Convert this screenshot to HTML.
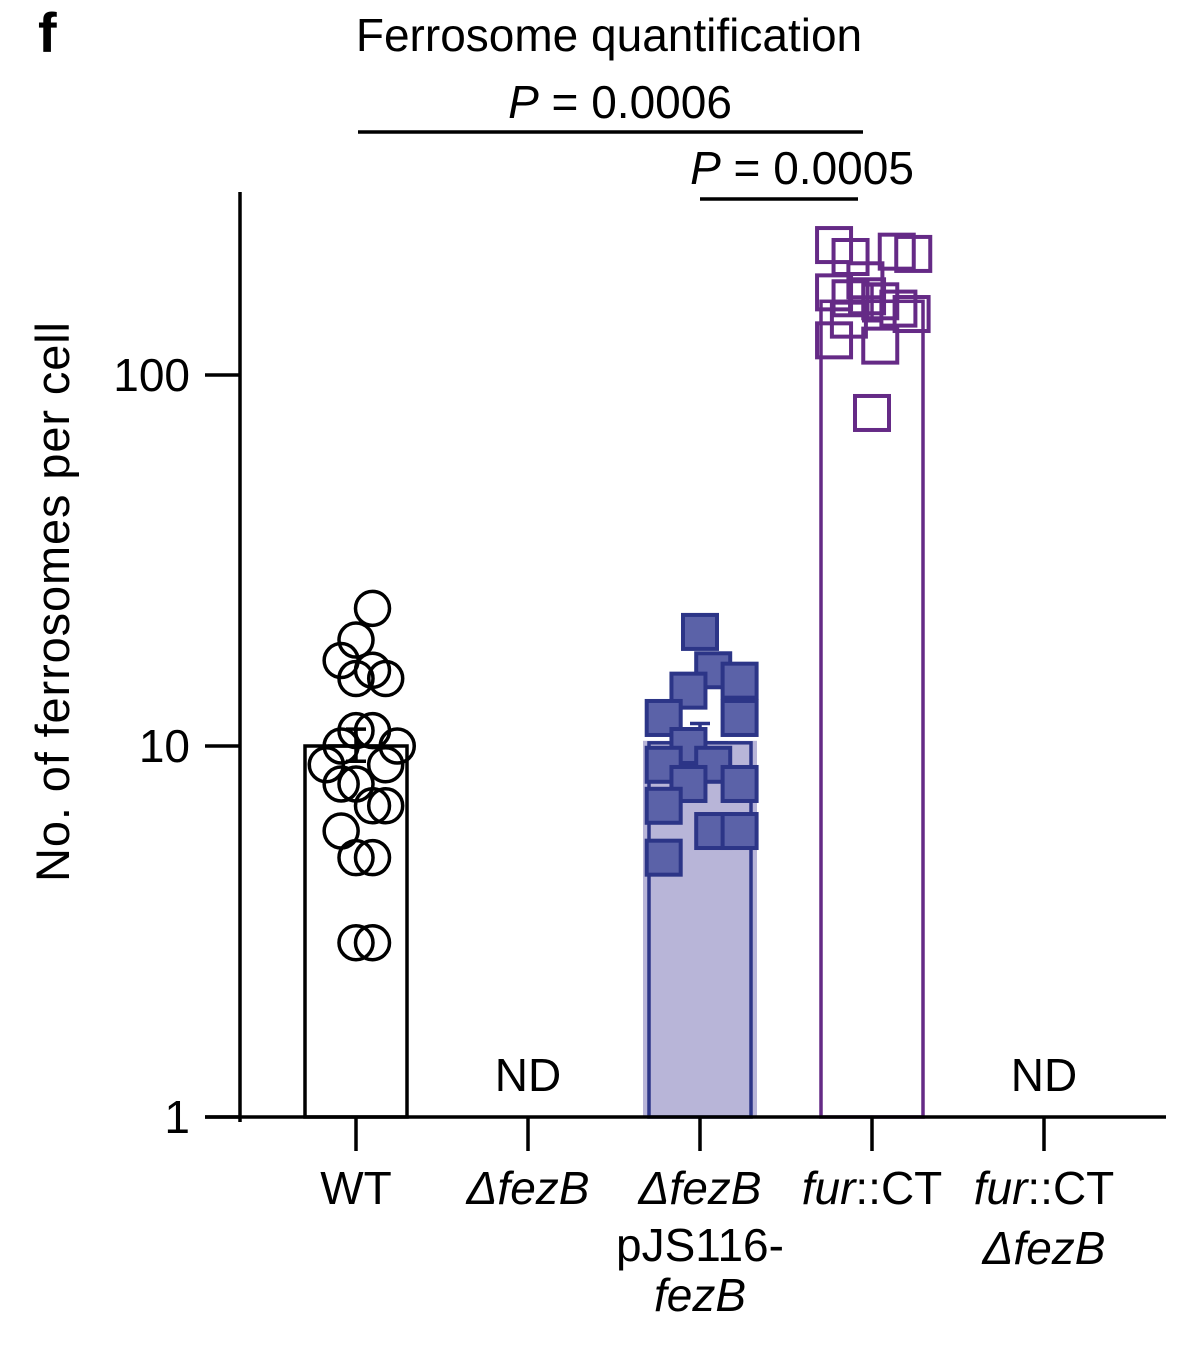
<!DOCTYPE html>
<html><head><meta charset="utf-8"><style>
html,body{margin:0;padding:0;background:#fff;}
svg{display:block;font-family:"Liberation Sans",Arial,sans-serif;}
</style></head><body>
<svg id="chart" width="1192" height="1346" viewBox="0 0 1192 1346">
<text x="38" y="52" font-size="56" font-weight="bold">f</text>
<text x="609" y="51" font-size="46" text-anchor="middle">Ferrosome quantification</text>
<g id="sig">
<line x1="358" y1="132" x2="863" y2="132" stroke="#000" stroke-width="3.5"/>
<text x="620" y="118" font-size="46" text-anchor="middle"><tspan font-style="italic">P</tspan> = 0.0006</text>
<line x1="700" y1="199" x2="858" y2="199" stroke="#000" stroke-width="3.5"/>
<text x="802" y="184" font-size="46" text-anchor="middle"><tspan font-style="italic">P</tspan> = 0.0005</text>
</g>
<text transform="translate(69,602) rotate(-90)" font-size="47" text-anchor="middle" textLength="560">No. of ferrosomes per cell</text>
<g id="plot"></g>
</svg>
<script>
const categories = ["WT","ΔfezB","ΔfezB pJS116-fezB","fur::CT","fur::CT ΔfezB"];
const yTicks = [1,10,100];
const yTickLabels = ["1","10","100"];
const barMeans = [10, null, 10.2, 158, null];
const errLow = [9.1, null, 8.9, 140, null];
const errHigh = [11.1, null, 11.5, 175, null];
const wtValues = [23.5,19.3,17.0,15.2,16.0,15.2,11.0,11.0,10.0,10.0,8.9,8.9,7.9,7.9,6.9,6.9,5.9,5.0,5.0,2.95,2.95];
const compValues = [20.3,16.0,15.0,14.1,11.9,11.9,10.0,8.9,8.9,7.9,7.9,6.9,5.9,5.9,5.0];
const furValues = [224,208,215,212,180,161,167,163,158,151,146,141,124,120,79];
const wtJitter = [0.5,0,-0.45,0,0.5,0.9,0,0.5,-0.45,1.25,-0.9,0.9,-0.45,0,0.5,0.9,-0.45,0,0.5,0,0.5];
const compJitter = [0,0.4,1.2,-0.35,-1.1,1.2,-0.35,-1.1,0.4,-0.35,1.2,-1.1,0.4,1.2,-1.1];
const furJitter = [-1.15,-0.65,0.75,1.25,-0.2,-0.65,-1.15,-0.15,0.25,0.8,1.2,-0.7,-1.15,0.25,0];

const NS="http://www.w3.org/2000/svg";
const plot=document.getElementById('plot');
const yBase=1117, decade=371;
const y = v => yBase - Math.log10(v)*decade;
const x = i => 356 + i*172;
function mk(tag, attrs){const e=document.createElementNS(NS,tag);for(const k in attrs)e.setAttribute(k,attrs[k]);plot.appendChild(e);return e;}

const barStyles=[{fill:"#fff",stroke:"#000"},null,{fill:"#b8b5d8",stroke:"#2c3587"},{fill:"#fff",stroke:"#652a86"},null];
barMeans.forEach((m,i)=>{
  if(m==null)return;
  const s=barStyles[i];
  if(i===2){const f=mk('rect',{x:x(i)-57,y:y(m)-2,width:114,height:yBase-y(m)+2,fill:s.fill});
    
    }
  const r=mk('rect',{x:x(i)-51,y:y(m),width:102,height:yBase-y(m),fill:i===2?'none':s.fill,stroke:s.stroke,'stroke-width':3.5});
  
  
});
function errbar(i,col){
  const g=mk('path',{d:`M${x(i)-10},${y(errHigh[i])}H${x(i)+10}M${x(i)},${y(errHigh[i])}V${y(errLow[i])}M${x(i)-28},${y(barMeans[i])}H${x(i)+28}M${x(i)-10},${y(errLow[i])}H${x(i)+10}`,stroke:col,'stroke-width':3.5,fill:'none'});
  
  
}
errbar(0,'#000');errbar(2,'#2c3587');errbar(3,'#652a86');
wtValues.forEach((v,k)=>{
  const c=mk('circle',{cx:x(0)+wtJitter[k]*33,cy:y(v),r:17,fill:'none',stroke:'#000','stroke-width':3.5});
  
  
});
compValues.forEach((v,k)=>{
  const c=mk('rect',{x:x(2)+compJitter[k]*33-17,y:y(v)-17,width:34,height:34,fill:'#5b62a8',stroke:'#2c3587','stroke-width':4});
  
  
});
furValues.forEach((v,k)=>{
  const c=mk('rect',{x:x(3)+furJitter[k]*33-17,y:y(v)-17,width:34,height:34,fill:'none',stroke:'#652a86','stroke-width':4});
  
  
});
let a=mk('line',{x1:240,y1:192,x2:240,y2:1122,stroke:'#000','stroke-width':3.5});


a=mk('line',{x1:205,y1:yBase,x2:1166,y2:yBase,stroke:'#000','stroke-width':3.5});


yTicks.forEach((t,k)=>{
  const l=mk('line',{x1:205,y1:y(t),x2:240,y2:y(t),stroke:'#000','stroke-width':3.5});
  
  
  const tx=mk('text',{x:190,y:y(t)+16,'font-size':46,'text-anchor':'end'});
  tx.textContent=yTickLabels[k];
  
  
});
categories.forEach((c,i)=>{
  const l=mk('line',{x1:x(i),y1:yBase,x2:x(i),y2:1151,stroke:'#000','stroke-width':3.5});
  
  
});
const labels=[
 [[0,'WT',1204]],
 [[1,'<tspan font-style="italic">ΔfezB</tspan>',1204]],
 [[2,'<tspan font-style="italic">ΔfezB</tspan>',1204],[2,'pJS116-',1261],[2,'<tspan font-style="italic">fezB</tspan>',1311]],
 [[3,'<tspan font-style="italic">fur</tspan>::CT',1204]],
 [[4,'<tspan font-style="italic">fur</tspan>::CT',1204],[4,'<tspan font-style="italic">ΔfezB</tspan>',1264]]
];
labels.forEach((ls,i)=>ls.forEach(([ci,h,yy])=>{
  const t=mk('text',{x:x(ci),y:yy,'font-size':46,'text-anchor':'middle'});
  t.innerHTML=h;
  
  
}));
[1,4].forEach(i=>{
  const t=mk('text',{x:x(i),y:1091,'font-size':46,'text-anchor':'middle'});
  t.textContent='ND';
  
  
});
</script>
</body></html>
